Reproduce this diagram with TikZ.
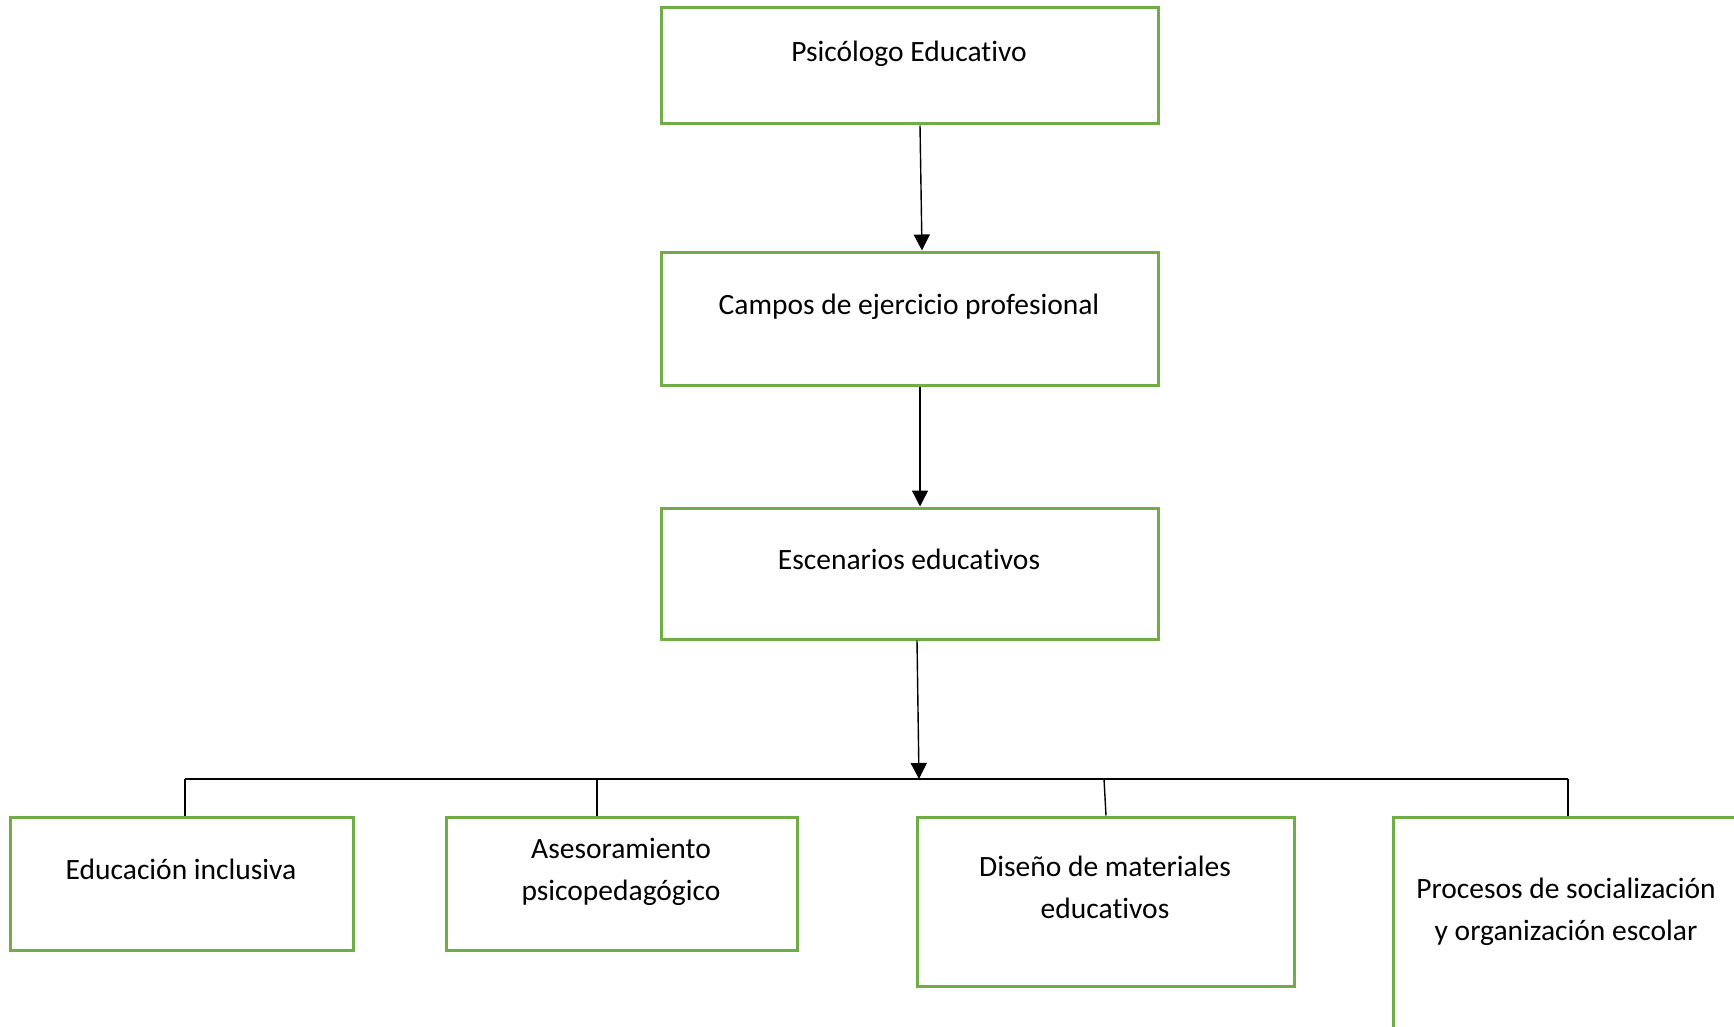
\documentclass[tikz,border=0pt]{standalone}
\usepackage{fontspec}
\setmainfont{Carlito}[RawFeature={-liga;-clig;-dlig}]
\usetikzlibrary{arrows.meta}
\definecolor{boxgreen}{HTML}{70AD47}
\tikzset{
  box/.style={draw=boxgreen, line width=3pt, rectangle, inner sep=0pt, fill=none},
  txt/.style={align=center, font=\fontsize{29.5}{42}\selectfont, inner sep=0pt, text=black},
  conn/.style={draw=black, line width=1.4pt},
  arr/.style={conn, -{Triangle[width=16pt,length=16pt]}}
}
\begin{document}
\begin{tikzpicture}[x=1pt,y=-1pt]
\path[use as bounding box] (0,0) rectangle (1734,1027);
\clip (0,0) rectangle (1734,1027);
\fill[white] (0,0) rectangle (1734,1027);
% boxes
\node[box, minimum width=497pt, minimum height=116pt] (b1) at (909.5,66) {};
\node[box, minimum width=497pt, minimum height=133pt] (b2) at (909.5,318.5) {};
\node[box, minimum width=497pt, minimum height=131pt] (b3) at (909.5,573.5) {};
\node[box, minimum width=343pt, minimum height=133pt] (c1) at (181.5,883.5) {};
\node[box, minimum width=351pt, minimum height=133pt] (c2) at (621.5,883.5) {};
\node[box, minimum width=377pt, minimum height=169pt] (c3) at (1105.5,901.5) {};
\node[box, minimum width=400pt, minimum height=300pt] (c4) at (1593,967) {};
% texts
\node[txt] (t1) at (909,54) {Psicólogo Educativo};
\node[txt] (t2) at (909,307) {Campos de ejercicio profesional};
\node[txt] (t3) at (909,559) {Escenarios educativos};
\node[txt] (u1) at (181,869) {Educación inclusiva};
\node[txt] (u2) at (621,872) {Asesoramiento\\psicopedagógico};
\node[txt] (u3) at (1105,887) {Diseño de materiales\\educativos};
\node[txt] (u4) at (1566,912) {Procesos de socialización\\y organización escolar};
% connectors
\coordinate (j) at (919,779);
\coordinate (bl) at (185,779);
\coordinate (br) at (1568,779);
\draw[arr] ([xshift=10.5pt]b1.south) -- ([xshift=12.5pt]b2.north);
\draw[arr] ([xshift=10.5pt]b2.south) -- ([xshift=10.5pt]b3.north);
\draw[arr] ([xshift=7.5pt]b3.south) -- (j);
\draw[conn] (bl) -- (br);
\draw[conn] (bl) -- ([xshift=3.5pt]c1.north);
\draw[conn] (597,779) -- ([xshift=-24.5pt]c2.north);
\draw[conn] (1104,779) -- ([xshift=0.5pt]c3.north);
\draw[conn] (br) -- ([xshift=-25pt]c4.north);
\end{tikzpicture}
\end{document}
